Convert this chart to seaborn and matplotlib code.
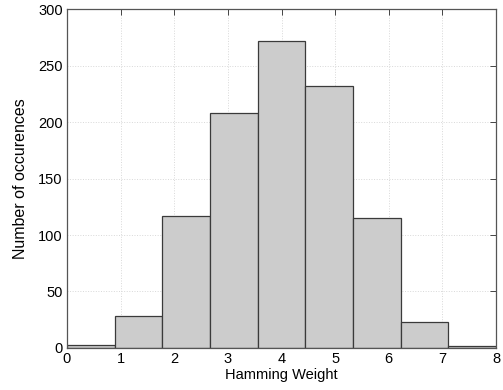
import numpy as np
import pandas as pd
import matplotlib
matplotlib.use("Agg")
import matplotlib.pyplot as plt
import seaborn as sns

# Hamming weight histogram: 9 equal-width bins spanning 0..8
bin_edges = np.linspace(0, 8, 10).tolist()
counts = [3, 28, 117, 208, 272, 232, 115, 23, 2]
x_ticks = [0, 1, 2, 3, 4, 5, 6, 7, 8]
y_ticks = [0, 50, 100, 150, 200, 250, 300]

centers = [(a + b) / 2 for a, b in zip(bin_edges[:-1], bin_edges[1:])]
df = pd.DataFrame({"weight": centers, "count": counts})

sns.set_style("white")
plt.rcParams["font.family"] = ["Liberation Sans", "DejaVu Sans"]
plt.rcParams["text.color"] = "black"
plt.rcParams["axes.labelcolor"] = "black"
plt.rcParams["xtick.labelcolor"] = "black"
plt.rcParams["ytick.labelcolor"] = "black"

fig = plt.figure(figsize=(5.03, 3.90), dpi=100)
ax = fig.add_axes([0.1332, 0.1077, 0.8529, 0.8692])

sns.histplot(data=df, x="weight", weights="count", bins=bin_edges,
             color="#cccccc", alpha=1.0, edgecolor="#3a3a3a", linewidth=0.9,
             ax=ax, zorder=2)

ax.set_xlim(0, 8)
ax.set_ylim(0, 300)
ax.set_xticks(x_ticks)
ax.set_yticks(y_ticks)
ax.grid(True, color="#d8d8d8", linestyle=":", linewidth=0.7, zorder=0)
ax.set_axisbelow(True)
ax.tick_params(direction="in", top=True, right=True, length=4, width=0.7,
               color="#444444", labelsize=10.5, pad=3)
for s in ax.spines.values():
    s.set_color("#555555")
    s.set_linewidth(0.9)

ax.set_xlabel("Hamming Weight", fontsize=10.5, labelpad=1)
ax.set_ylabel("Number of occurences", fontsize=11.5, labelpad=7)

fig.savefig("out.png", dpi=100)
